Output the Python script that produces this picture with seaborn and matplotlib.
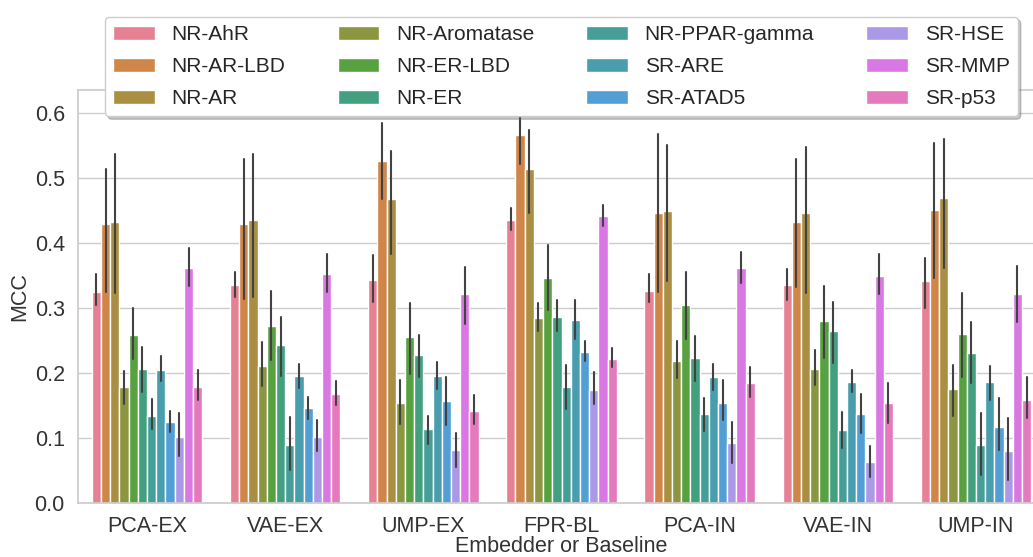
import numpy as np
import pandas as pd
import matplotlib
matplotlib.use("Agg")
import matplotlib.pyplot as plt
import seaborn as sns

embedders = ["PCA-EX", "VAE-EX", "UMP-EX", "FPR-BL", "PCA-IN", "VAE-IN", "UMP-IN"]
tasks = ["NR-AhR", "NR-AR-LBD", "NR-AR", "NR-Aromatase", "NR-ER-LBD", "NR-ER",
         "NR-PPAR-gamma", "SR-ARE", "SR-ATAD5", "SR-HSE", "SR-MMP", "SR-p53"]

# Mean MCC per embedder (rows) and task (columns)
mcc_mean = [
    [0.325, 0.429, 0.432, 0.179, 0.259, 0.206, 0.134, 0.204, 0.125, 0.102, 0.362, 0.179],
    [0.335, 0.430, 0.436, 0.211, 0.273, 0.243, 0.089, 0.196, 0.146, 0.101, 0.353, 0.168],
    [0.343, 0.526, 0.468, 0.153, 0.256, 0.227, 0.113, 0.196, 0.157, 0.081, 0.322, 0.141],
    [0.436, 0.567, 0.514, 0.285, 0.347, 0.286, 0.179, 0.282, 0.233, 0.174, 0.442, 0.221],
    [0.327, 0.447, 0.449, 0.219, 0.305, 0.223, 0.136, 0.193, 0.154, 0.092, 0.362, 0.184],
    [0.335, 0.433, 0.447, 0.206, 0.280, 0.265, 0.112, 0.186, 0.136, 0.063, 0.350, 0.153],
    [0.341, 0.451, 0.470, 0.175, 0.260, 0.231, 0.089, 0.186, 0.116, 0.079, 0.321, 0.159],
]
# Lower bound of the 95% interval
mcc_low = [
    [0.304, 0.324, 0.323, 0.152, 0.222, 0.170, 0.113, 0.188, 0.109, 0.072, 0.334, 0.158],
    [0.317, 0.314, 0.317, 0.180, 0.220, 0.196, 0.051, 0.176, 0.129, 0.080, 0.324, 0.150],
    [0.309, 0.468, 0.384, 0.121, 0.198, 0.193, 0.091, 0.175, 0.120, 0.055, 0.276, 0.122],
    [0.421, 0.522, 0.446, 0.265, 0.297, 0.264, 0.144, 0.252, 0.218, 0.152, 0.426, 0.209],
    [0.309, 0.325, 0.341, 0.192, 0.252, 0.188, 0.110, 0.174, 0.128, 0.061, 0.338, 0.163],
    [0.312, 0.332, 0.323, 0.181, 0.223, 0.216, 0.085, 0.171, 0.108, 0.040, 0.321, 0.123],
    [0.300, 0.346, 0.361, 0.134, 0.193, 0.184, 0.043, 0.158, 0.081, 0.035, 0.279, 0.130],
]
# Upper bound of the 95% interval
mcc_high = [
    [0.352, 0.514, 0.537, 0.203, 0.300, 0.240, 0.160, 0.226, 0.142, 0.139, 0.393, 0.205],
    [0.356, 0.529, 0.537, 0.247, 0.326, 0.286, 0.132, 0.214, 0.163, 0.127, 0.383, 0.187],
    [0.382, 0.585, 0.542, 0.189, 0.308, 0.259, 0.134, 0.217, 0.193, 0.107, 0.364, 0.166],
    [0.454, 0.610, 0.574, 0.308, 0.397, 0.313, 0.212, 0.313, 0.249, 0.201, 0.459, 0.238],
    [0.352, 0.568, 0.552, 0.249, 0.356, 0.257, 0.162, 0.214, 0.189, 0.125, 0.387, 0.209],
    [0.360, 0.530, 0.548, 0.236, 0.334, 0.310, 0.140, 0.205, 0.167, 0.088, 0.383, 0.184],
    [0.377, 0.555, 0.560, 0.212, 0.323, 0.278, 0.138, 0.211, 0.161, 0.130, 0.365, 0.193],
]

# Long-form table: each bar gets its low / centre / high value, the median is the
# bar height and the min/max span is the interval.
rows = []
for i, emb in enumerate(embedders):
    for j, task in enumerate(tasks):
        for v in (mcc_low[i][j], mcc_mean[i][j], mcc_high[i][j]):
            rows.append({"Embedder or Baseline": emb, "task": task, "MCC": v})
df = pd.DataFrame(rows)

sns.set_theme(style="whitegrid")
plt.rcParams["font.family"] = ["Liberation Sans", "DejaVu Sans"]

W, H = 1033, 557
fig = plt.figure(figsize=(W / 100, H / 100), dpi=100)
ax = fig.add_axes([78 / W, (H - 502.7) / H, (1045 - 78) / W, (502.7 - 90) / H])

sns.barplot(
    data=df, x="Embedder or Baseline", y="MCC", hue="task",
    order=embedders, hue_order=tasks, palette="husl",
    estimator="median", errorbar=lambda v: (v.min(), v.max()),
    err_kws={"color": ".26", "linewidth": 1.5}, ax=ax,
)

ax.set_ylim(0, 0.636)
ax.set_yticks(np.arange(0, 0.61, 0.1))
ax.set_yticklabels([f"{t:.1f}" for t in np.arange(0, 0.61, 0.1)])
ax.tick_params(axis="both", labelsize=15.5, colors="#333333")
ax.set_xlabel("Embedder or Baseline", fontsize=15.5, color="#333333", labelpad=-1)
ax.set_ylabel("MCC", fontsize=15.5, color="#333333", labelpad=3)

leg = ax.legend(loc="upper center", bbox_to_anchor=(0.5, 1.177), ncol=4,
                shadow={"color": "0.4", "alpha": 0.35}, fontsize=15,
                borderaxespad=0, labelspacing=0.62, columnspacing=2.5,
                title=None)

fig.savefig("out.png", dpi=100)
